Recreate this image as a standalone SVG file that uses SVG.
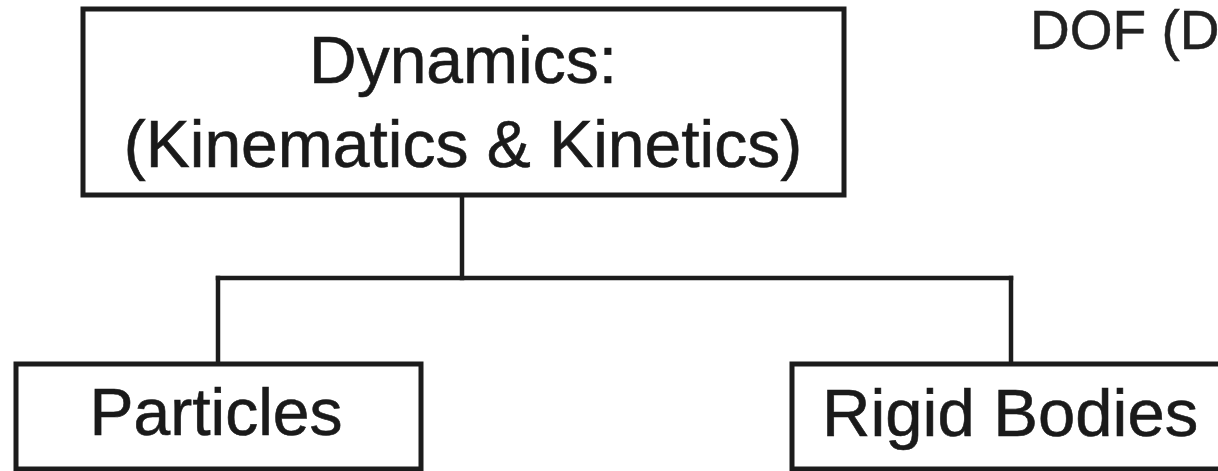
<svg xmlns="http://www.w3.org/2000/svg" width="1218" height="471" viewBox="0 0 1218 471">
  <style>
    .box { fill: #ffffff; stroke: #1c1c1c; stroke-width: 5; }
    .link { fill: none; stroke: #1c1c1c; stroke-width: 4.5; stroke-linecap: square; }
    .label { font-family: "Liberation Sans", Arial, Helvetica, sans-serif; font-size: 66px; fill: #1a1a1a; stroke: #1a1a1a; stroke-width: 0.6; text-anchor: middle; }
    .note { font-family: "Liberation Sans", Arial, Helvetica, sans-serif; font-size: 55px; fill: #222222; stroke: #222222; stroke-width: 0.5; }
  </style>
  <rect width="1218" height="471" fill="#ffffff"/>

  <!-- tree connectors -->
  <g id="connectors">
    <path class="link" d="M462 195 V278"/>
    <path class="link" d="M218 278 H1011"/>
    <path class="link" d="M218 278 V364"/>
    <path class="link" d="M1011 278 V364"/>
  </g>

  <g id="dynamics">
    <rect class="box" x="83" y="9" width="761" height="186"/>
    <text class="label" x="463" y="83">Dynamics:</text>
    <text class="label" x="463" y="167">(Kinematics &amp; Kinetics)</text>
  </g>

  <g id="particles">
    <rect class="box" x="16" y="364" width="405" height="105"/>
    <text class="label" x="216" y="435">Particles</text>
  </g>

  <g id="rigid-bodies">
    <rect class="box" x="792" y="364" width="450" height="105"/>
    <text class="label" x="822" y="436" style="text-anchor:start; font-size:67px">Rigid Bodies</text>
  </g>

  <g id="dof">
    <text class="note" x="1030" y="49">DOF (D</text>
  </g>
</svg>
